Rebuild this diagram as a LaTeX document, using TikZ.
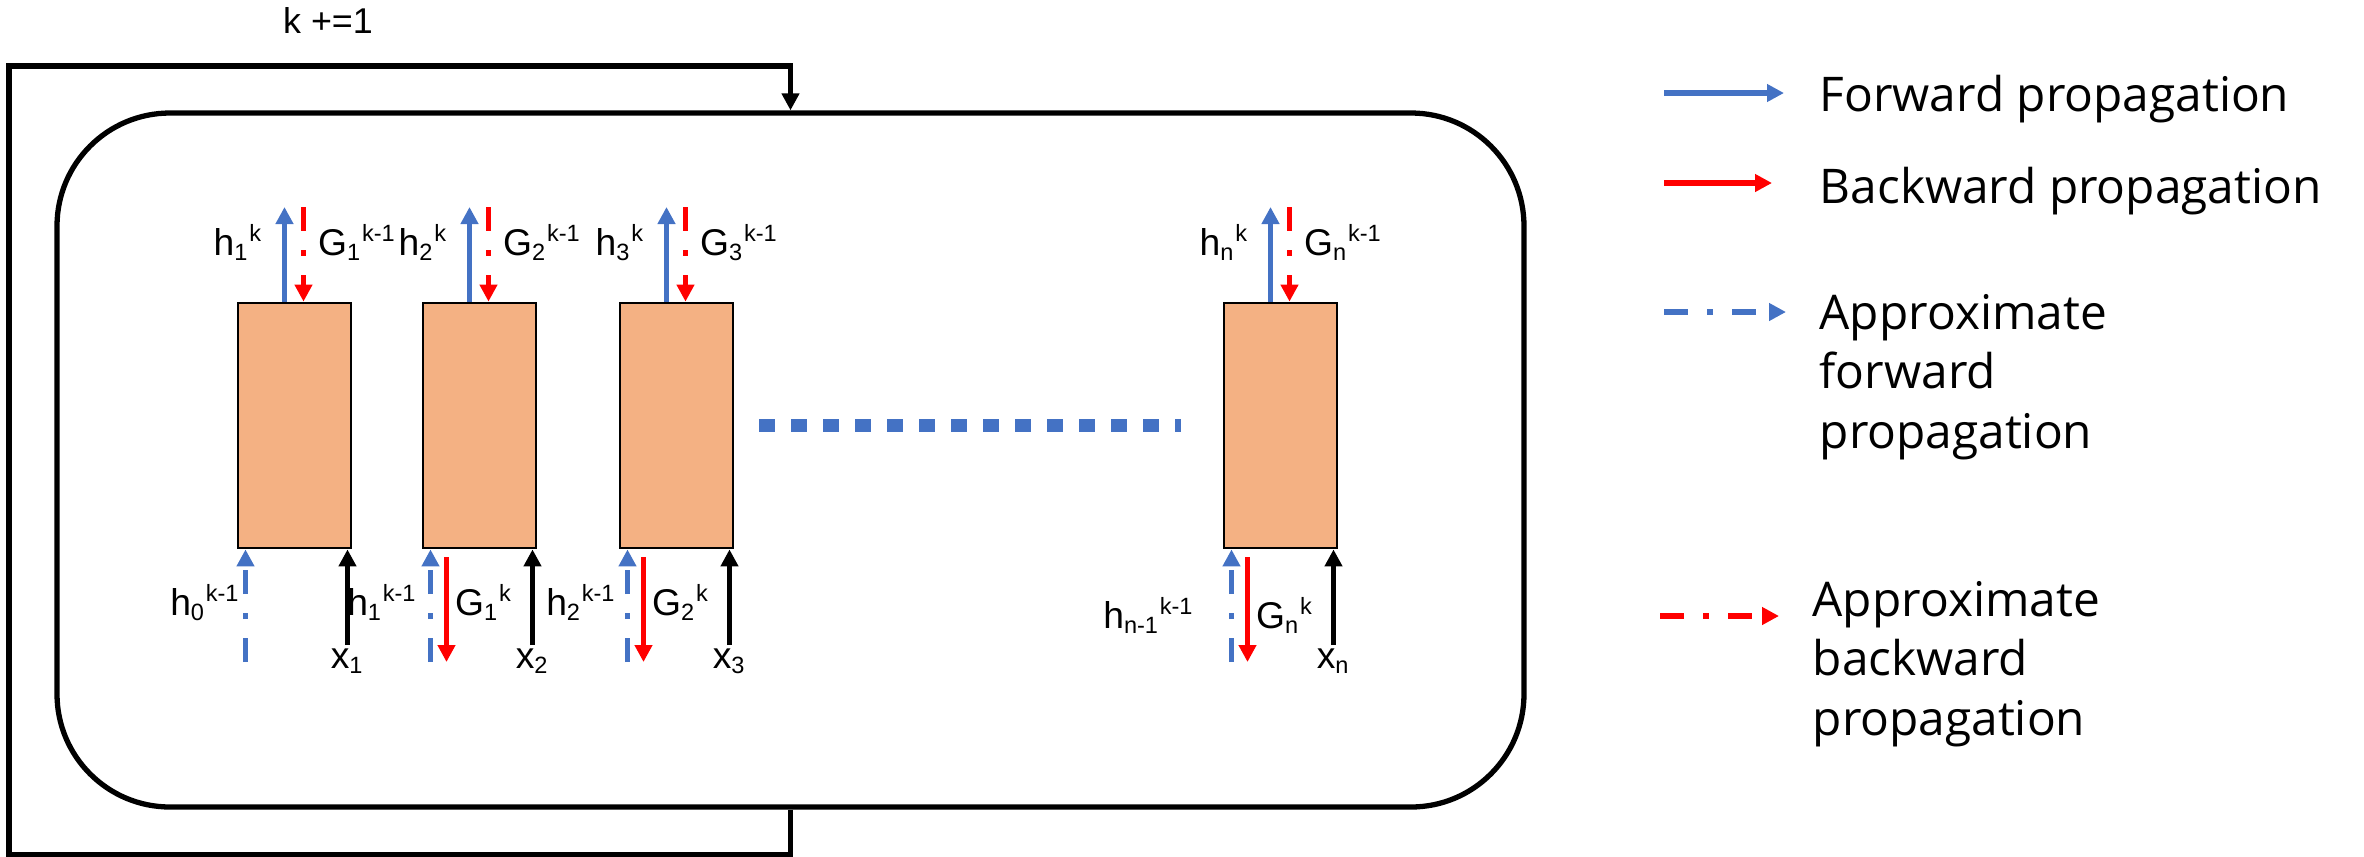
\documentclass[tikz,border=0pt]{standalone}
\usepackage{fontspec}
\setmainfont{Liberation Sans}
\newfontfamily\legendfont{Open Sans}
\usepackage{tikz}
\usetikzlibrary{positioning,arrows.meta,calc}
\definecolor{fwdblue}{HTML}{4472C4}
\definecolor{bwdred}{HTML}{FF0000}
\definecolor{cellfill}{HTML}{F4B183}
\DeclareMathSizes{10.6}{10.6}{6.7}{5}

\begin{document}
\begin{tikzpicture}[
        x=0.1mm, y=-0.1mm,
        font=\fontsize{10.6}{13}\selectfont,
        >={Triangle[length=1.7mm, width=1.7mm]},
        cell/.style={rectangle, draw, line width=0.8pt, fill=cellfill, inner sep=0pt,
                     minimum width=11.3mm, minimum height=24.5mm},
        loopbox/.style={rectangle, draw, line width=1.5pt, rounded corners=11.3mm,
                        inner sep=0pt, minimum width=146.7mm, minimum height=69.4mm},
        fwd/.style={->, line width=1.6pt, fwdblue},
        bwd/.style={->, line width=1.6pt, bwdred},
        afwd/.style={fwd, dash pattern=on 2.4mm off 1.9mm on 0.6mm off 1.9mm},
        abwd/.style={bwd, dash pattern=on 2.4mm off 1.9mm on 0.6mm off 1.9mm},
        inp/.style={->, line width=1.6pt},
        lbl/.style={inner sep=0pt},
        legend/.style={inner sep=0pt, align=left,
                       font=\legendfont\fontsize{13.6}{16.8}\selectfont},
    ]
        \useasboundingbox (0,0) rectangle (2364,856);
        \node[loopbox] (body) at (790.5,460) {};
        \coordinate (back) at (9,66);
        \draw[->, line width=1.5pt] (body.south) -- ++(0,45) -| (back) -| (body.north);
        \node[lbl, anchor=base, font=\fontsize{10.2}{12}\selectfont] (kinc) at (328,33) {k +=1};

        \foreach \i/\cx/\p/\hx/\ly in {1/294.5/0/241/615, 2/479.5/1/418/615,
                                       3/676.5/2/617/615, n/1280.5/{n-1}/1195/628} {
            \node[cell] (c\i) at (\cx,425.5) {};
            \coordinate (ht\i) at (\cx-10,207);
            \coordinate (gt\i) at (\cx+9,207);
            \coordinate (hb\i) at (\cx-49,662);
            \coordinate (xb\i) at (\cx+53,645);
            \draw[fwd] (ht\i |- c\i.north) -- (ht\i);
            \draw[abwd] (gt\i) -- (gt\i |- c\i.north);
            \draw[afwd] (hb\i) -- (hb\i |- c\i.south);
            \draw[inp] (xb\i) -- (xb\i |- c\i.south);
            \node[lbl, anchor=base east] (hk\i) at (\cx-31,255) {h\textsubscript{\i}\textsuperscript{k}};
            \node[lbl, anchor=base west] (gk\i) at (\cx+23,255) {G\textsubscript{\i}\textsuperscript{k-1}};
            \node[lbl, anchor=base east] (hp\i) at (\hx,\ly) {h\textsubscript{\p}\textsuperscript{k-1}};
            \node[lbl, anchor=base] (x\i) at (\cx+53,668) {x\textsubscript{\i}};
        }
        \foreach \i/\cx/\q/\ly in {2/479.5/1/615, 3/676.5/2/615, n/1280.5/n/628} {
            \coordinate (gb\i) at (\cx-33,662);
            \draw[bwd] ([yshift=-0.8mm]gb\i |- c\i.south) -- (gb\i);
            \node[lbl, anchor=base west] (gp\i) at (\cx-25,\ly) {G\textsubscript{\q}\textsuperscript{k}};
        }
        \draw[fwdblue, line width=1.3mm, dash pattern=on 1.6mm off 1.6mm]
            ([xshift=2.5mm]c3.east) -- ([xshift=-4.2mm]cn.west);

        \foreach \sty/\xa/\xb/\y/\tx/\ty/\txt in {
                fwd/1664/1784/93/1819/111/{Forward propagation},
                bwd/1664/1772/183/1819/203/{Backward propagation},
                afwd/1664/1786/312/1819/448/{Approximate\\forward\\propagation},
                abwd/1660/1779/616/1812/735/{Approximate\\backward\\propagation}} {
            \coordinate (ls\sty) at (\xa,\y);
            \coordinate (le\sty) at (\xb,\y);
            \draw[\sty] (ls\sty) -- (le\sty);
            \node[legend, anchor=base west] (lt\sty) at (\tx,\ty) {\txt};
        }
    \end{tikzpicture}
\end{document}
